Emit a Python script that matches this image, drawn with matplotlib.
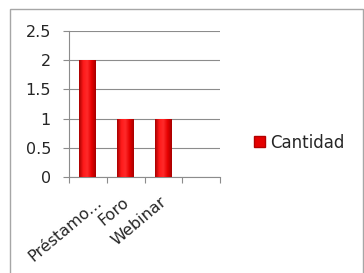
import numpy as np
import matplotlib
matplotlib.use("Agg")
import matplotlib.pyplot as plt
import matplotlib.transforms as mtransforms
from matplotlib.patches import Rectangle, Patch
from matplotlib.colors import LinearSegmentedColormap

categories = ["Préstamo...", "Foro", "Webinar", ""]
values = [2, 1, 1, np.nan]
series_name = "Cantidad"
yticks = [0, 0.5, 1, 1.5, 2, 2.5]
ytick_labels = ["0", "0.5", "1", "1.5", "2", "2.5"]

W, H = 364, 273
FONT = ["DejaVu Sans"]
TXT = "#262626"
fig = plt.figure(figsize=(W / 100, H / 100), dpi=100)
fig.patch.set_facecolor("white")

# outer chart border
fig.patches.append(Rectangle((10 / W, -0.01), 353 / W, (H - 9) / H + 0.01,
                             transform=fig.transFigure, fill=False,
                             edgecolor="#A6A6A6", linewidth=1.0))

ax = fig.add_axes([69 / W, 96 / H, 151 / W, 146 / H])
x = np.arange(len(categories))
bw = 0.45
bars = ax.bar(x, values, width=bw, color="#E50000", edgecolor="none",
              linewidth=0, zorder=3, label=series_name)

# horizontal gradient fill inside each bar
cmap = LinearSegmentedColormap.from_list(
    "redgrad", ["#A80000", "#FF1A1A", "#FF2A2A", "#E60000", "#A80000"])
grad = np.linspace(0, 1, 64).reshape(1, -1)
for b in bars:
    h = b.get_height()
    if np.isnan(h) or h == 0:
        continue
    x0 = b.get_x()
    im = ax.imshow(grad, cmap=cmap, aspect="auto",
                   extent=(x0, x0 + b.get_width(), 0, h), zorder=4,
                   interpolation="bilinear")
    im.set_clip_path(b)

ax.set_xlim(-0.5, len(categories) - 0.5)
ax.set_ylim(0, 2.5)
ax.set_yticks(yticks)
ax.set_yticklabels(ytick_labels)
ax.yaxis.grid(True, color="#8C8C8C", linewidth=0.8, zorder=0)
ax.set_axisbelow(True)

for s in ["top", "right"]:
    ax.spines[s].set_visible(False)
ax.spines["left"].set_color("#8C8C8C")
ax.spines["bottom"].set_color("#8C8C8C")
ax.spines["left"].set_linewidth(0.8)
ax.spines["bottom"].set_linewidth(0.8)

# x ticks at category boundaries
ax.set_xticks(np.arange(-0.5, len(categories), 1.0))
ax.set_xticklabels([])
ax.tick_params(axis="x", length=4, direction="out", color="#8C8C8C")
ax.tick_params(axis="y", length=4, direction="out", color="#8C8C8C",
               labelsize=11.5, pad=9, labelcolor=TXT)
for lbl in ax.get_yticklabels():
    lbl.set_fontfamily(FONT)

# rotated category labels (shifted right if they would leave the chart area)
texts = []
for xi, cat in zip(x, categories):
    if cat:
        t = ax.text(xi - 0.1, -0.3, cat, rotation=40, ha="right", va="top",
                    rotation_mode="anchor", fontsize=11.5, color=TXT,
                    family=FONT, transform=ax.transData, clip_on=False)
        texts.append(t)

fig.canvas.draw()
renderer = fig.canvas.get_renderer()
min_left = 26  # px from figure left
for t in texts:
    bb = t.get_window_extent(renderer)
    if bb.x0 < min_left:
        dx = (min_left - bb.x0) / fig.dpi
        t.set_transform(ax.transData + mtransforms.ScaledTranslation(dx, 0, fig.dpi_scale_trans))

leg = fig.legend(handles=[Patch(facecolor="#E50000", edgecolor="#B30000")],
                 labels=[series_name], loc="center left",
                 bbox_to_anchor=(254 / W, 1 - 142.5 / H), frameon=False,
                 borderpad=0, borderaxespad=0,
                 handlelength=0.65, handleheight=0.65, handletextpad=0.3,
                 labelcolor=TXT,
                 prop={"family": FONT, "size": 12})

fig.savefig("out.png", dpi=100)
